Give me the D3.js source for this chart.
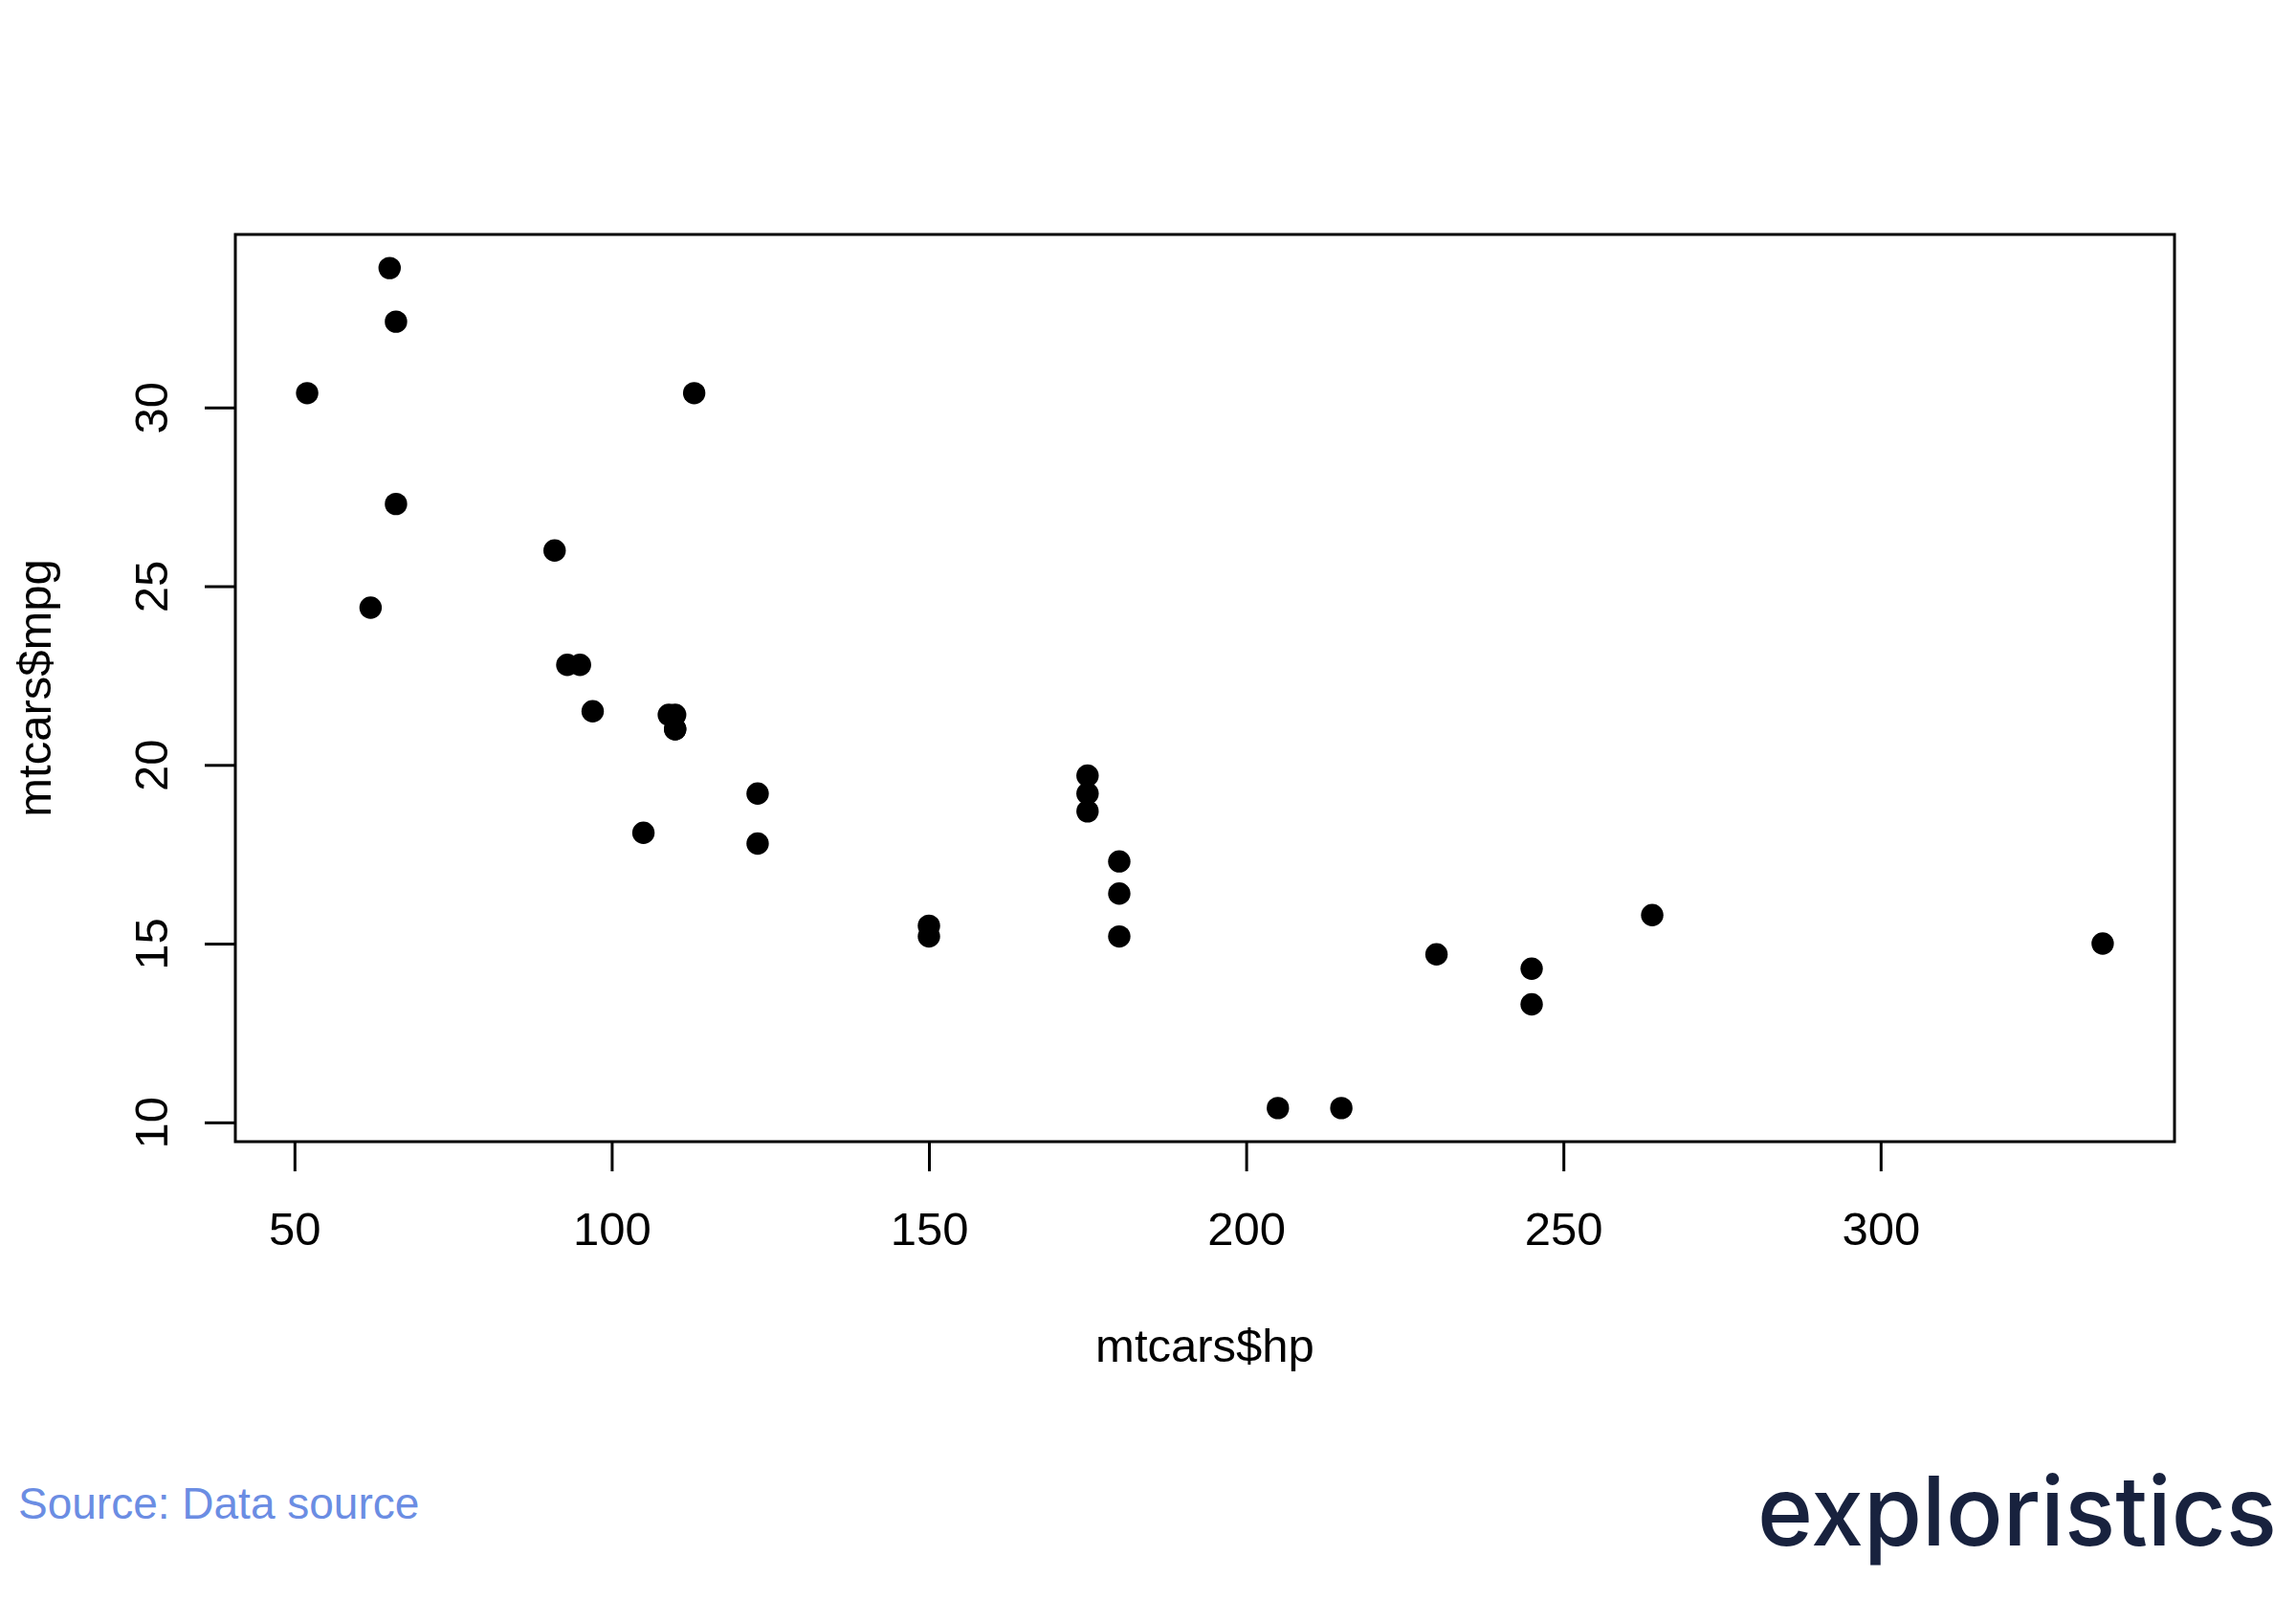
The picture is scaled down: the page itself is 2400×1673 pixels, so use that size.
<!DOCTYPE html>
<html>
<head>
<meta charset="utf-8">
<script src="https://cdn.jsdelivr.net/npm/d3@7"></script>
<style>
  body { margin: 0; background: #fff; }
  svg { display: block; }
</style>
</head>
<body>
<script>
var w = 2400;
var h = 1673;

// mtcars: horsepower and miles per gallon
var hp  = [110, 110, 93, 110, 175, 105, 245, 62, 95, 123, 123, 180, 180, 180, 205, 215,
           230, 66, 52, 65, 97, 150, 150, 245, 175, 66, 91, 113, 264, 175, 335, 109];
var mpg = [21.0, 21.0, 22.8, 21.4, 18.7, 18.1, 14.3, 24.4, 22.8, 19.2, 17.8, 16.4, 17.3, 15.2, 10.4, 10.4,
           14.7, 32.4, 30.4, 33.9, 21.5, 15.5, 15.2, 13.3, 19.2, 27.3, 26.0, 30.4, 15.8, 19.7, 15.0, 21.4];
var xTicks = [50, 100, 150, 200, 250, 300];
var yTicks = [10, 15, 20, 25, 30];

var xLab = 'mtcars$hp';
var yLab = 'mtcars$mpg';
var sourceText = 'Source: Data source';
var logoText = 'exploristics';

var box = {left: 246, right: 2273, top: 245, bottom: 1193};

// R style 4% padding on the data range
function pad(ext){
    var r = ext[1] - ext[0];
    return [ext[0] - r * 0.04, ext[1] + r * 0.04];
}

var x = d3.scaleLinear().domain(pad(d3.extent(hp))).range([box.left, box.right]);
var y = d3.scaleLinear().domain(pad(d3.extent(mpg))).range([box.bottom, box.top]);

var svg = d3.select('body').append('svg').attr('width', w).attr('height', h);

var font = 'Arial, "Liberation Sans", sans-serif';

// plot frame
svg.append('rect')
    .attr('x', box.left).attr('y', box.top)
    .attr('width', box.right - box.left).attr('height', box.bottom - box.top)
    .attr('fill', 'none').attr('stroke', '#000').attr('stroke-width', 3);

// x axis
var xAxis = svg.append('g')
    .attr('transform', 'translate(0,' + box.bottom + ')')
    .call(d3.axisBottom(x).tickValues(xTicks).tickSize(31).tickFormat(d3.format('d')));
xAxis.select('.domain').remove();
xAxis.selectAll('line').attr('stroke', '#000').attr('stroke-width', 3);
xAxis.selectAll('text').attr('font-family', font).attr('font-size', 49).attr('fill', '#000')
    .attr('dy', null).attr('y', 108);

// y axis, labels rotated like base R
var yAxis = svg.append('g')
    .attr('transform', 'translate(' + box.left + ',0)')
    .call(d3.axisLeft(y).tickValues(yTicks).tickSize(32).tickFormat(d3.format('d')));
yAxis.select('.domain').remove();
yAxis.selectAll('line').attr('stroke', '#000').attr('stroke-width', 3);
yAxis.selectAll('text')
    .attr('x', null).attr('dy', null)
    .attr('font-family', font).attr('font-size', 49).attr('fill', '#000')
    .attr('text-anchor', 'middle')
    .attr('transform', 'translate(-71,0) rotate(-90)');

// points
svg.append('g').selectAll('circle')
    .data(d3.range(hp.length)).enter()
    .append('circle')
    .attr('cx', function(i){ return x(hp[i]); })
    .attr('cy', function(i){ return y(mpg[i]); })
    .attr('r', 11.7)
    .attr('fill', '#000');

// axis titles
svg.append('text')
    .attr('x', (box.left + box.right) / 2).attr('y', 1423)
    .attr('text-anchor', 'middle')
    .attr('font-family', font).attr('font-size', 49)
    .text(xLab);

svg.append('text')
    .attr('transform', 'translate(53,' + (box.top + box.bottom) / 2 + ') rotate(-90)')
    .attr('text-anchor', 'middle')
    .attr('font-family', font).attr('font-size', 49)
    .text(yLab);

// footer
svg.append('text')
    .attr('x', 19).attr('y', 1587)
    .attr('font-family', font).attr('font-size', 46)
    .attr('fill', '#6b8de3')
    .text(sourceText);

svg.append('text')
    .attr('x', 1837).attr('y', 1615)
    .attr('font-family', 'Inter, "Open Sans", sans-serif')
    .attr('font-weight', 500).attr('font-size', 101)
    .attr('fill', '#18223e')
    .attr('textLength', 543).attr('lengthAdjust', 'spacingAndGlyphs')
    .text(logoText);
</script>
</body>
</html>
